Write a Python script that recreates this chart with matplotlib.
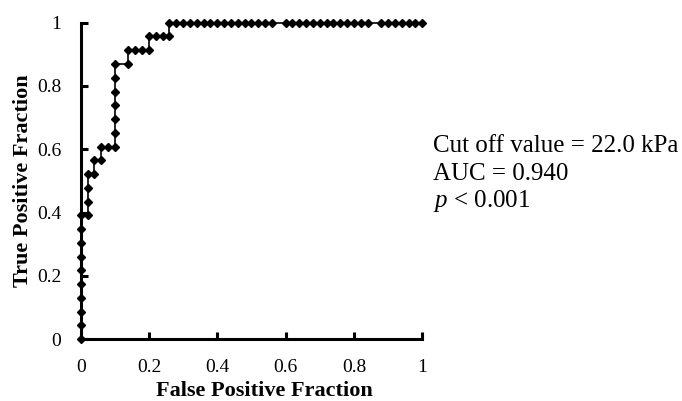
import matplotlib
matplotlib.use("Agg")
import matplotlib.pyplot as plt
from matplotlib.ticker import FuncFormatter, MultipleLocator

plt.rcParams["font.family"] = ["Liberation Serif", "DejaVu Serif"]
plt.rcParams["mathtext.fontset"] = "custom"
plt.rcParams["mathtext.rm"] = "Liberation Serif"
plt.rcParams["mathtext.it"] = "Liberation Serif:italic"

# ROC points: 50 negatives, 23 positives
n_negatives = 50
n_positives = 23
fp_counts = [0, 0, 0, 0, 0, 0, 0, 0, 0, 0,
             1, 1, 1, 1, 2, 2, 3, 3, 4,
             5, 5, 5, 5, 5, 5, 5, 7, 7, 8, 9, 10, 10, 11, 12, 13,
             13, 14, 15, 16, 17, 18, 19, 20, 21, 22, 23, 24, 25, 26, 27, 28,
             30, 31, 32, 33, 34, 35, 36, 37, 38, 39, 40, 41, 42,
             44, 45, 46, 47, 48, 49, 50]
tp_counts = [0, 1, 2, 3, 4, 5, 6, 7, 8, 9,
             9, 10, 11, 12, 12, 13, 13, 14, 14,
             14, 15, 16, 17, 18, 19, 20, 20, 21, 21, 21, 21, 22, 22, 22, 22,
             23, 23, 23, 23, 23, 23, 23, 23, 23, 23, 23, 23, 23, 23, 23, 23,
             23, 23, 23, 23, 23, 23, 23, 23, 23, 23, 23, 23, 23,
             23, 23, 23, 23, 23, 23, 23]

fpr = [k / n_negatives for k in fp_counts]
tpr = [j / n_positives for j in tp_counts]

cutoff_text = "Cut off value = 22.0 kPa"
auc_text = "AUC = 0.940"
p_text = r"$\it{p}$ < 0.001"

fig = plt.figure(figsize=(6.82, 4.01), dpi=100)
ax = fig.add_axes([0.1183, 0.1541, 0.5008, 0.7893])

ax.plot(fpr, tpr, color="black", lw=1.2, marker="D", ms=3.6,
        clip_on=False, zorder=5)

ax.set_xlim(0, 1)
ax.set_ylim(0, 1)
ax.xaxis.set_major_locator(MultipleLocator(0.2))
ax.yaxis.set_major_locator(MultipleLocator(0.2))
fmt = FuncFormatter(lambda v, pos: f"{v:g}")
ax.xaxis.set_major_formatter(fmt)
ax.yaxis.set_major_formatter(fmt)

for side in ("top", "right"):
    ax.spines[side].set_visible(False)
for side in ("left", "bottom"):
    ax.spines[side].set_linewidth(2.2)

ax.tick_params(axis="both", direction="in", length=5, width=2.2,
               labelsize=14)
ax.tick_params(axis="x", pad=14)
ax.tick_params(axis="y", pad=14)

ax.set_xlabel("False Positive Fraction", fontsize=16, fontweight="bold")
ax.set_ylabel("True Positive Fraction", fontsize=16, fontweight="bold")
ax.xaxis.set_label_coords(0.537, -0.133)
ax.yaxis.set_label_coords(-0.14, 0.5)

x_txt = 433 / 682
fig.text(x_txt, 1 - 152 / 401, cutoff_text, fontsize=18, va="baseline")
fig.text(x_txt, 1 - 179.5 / 401, auc_text, fontsize=18, va="baseline")
fig.text(x_txt, 1 - 207 / 401, p_text, fontsize=18, va="baseline")

fig.savefig("out.png", dpi=100)
